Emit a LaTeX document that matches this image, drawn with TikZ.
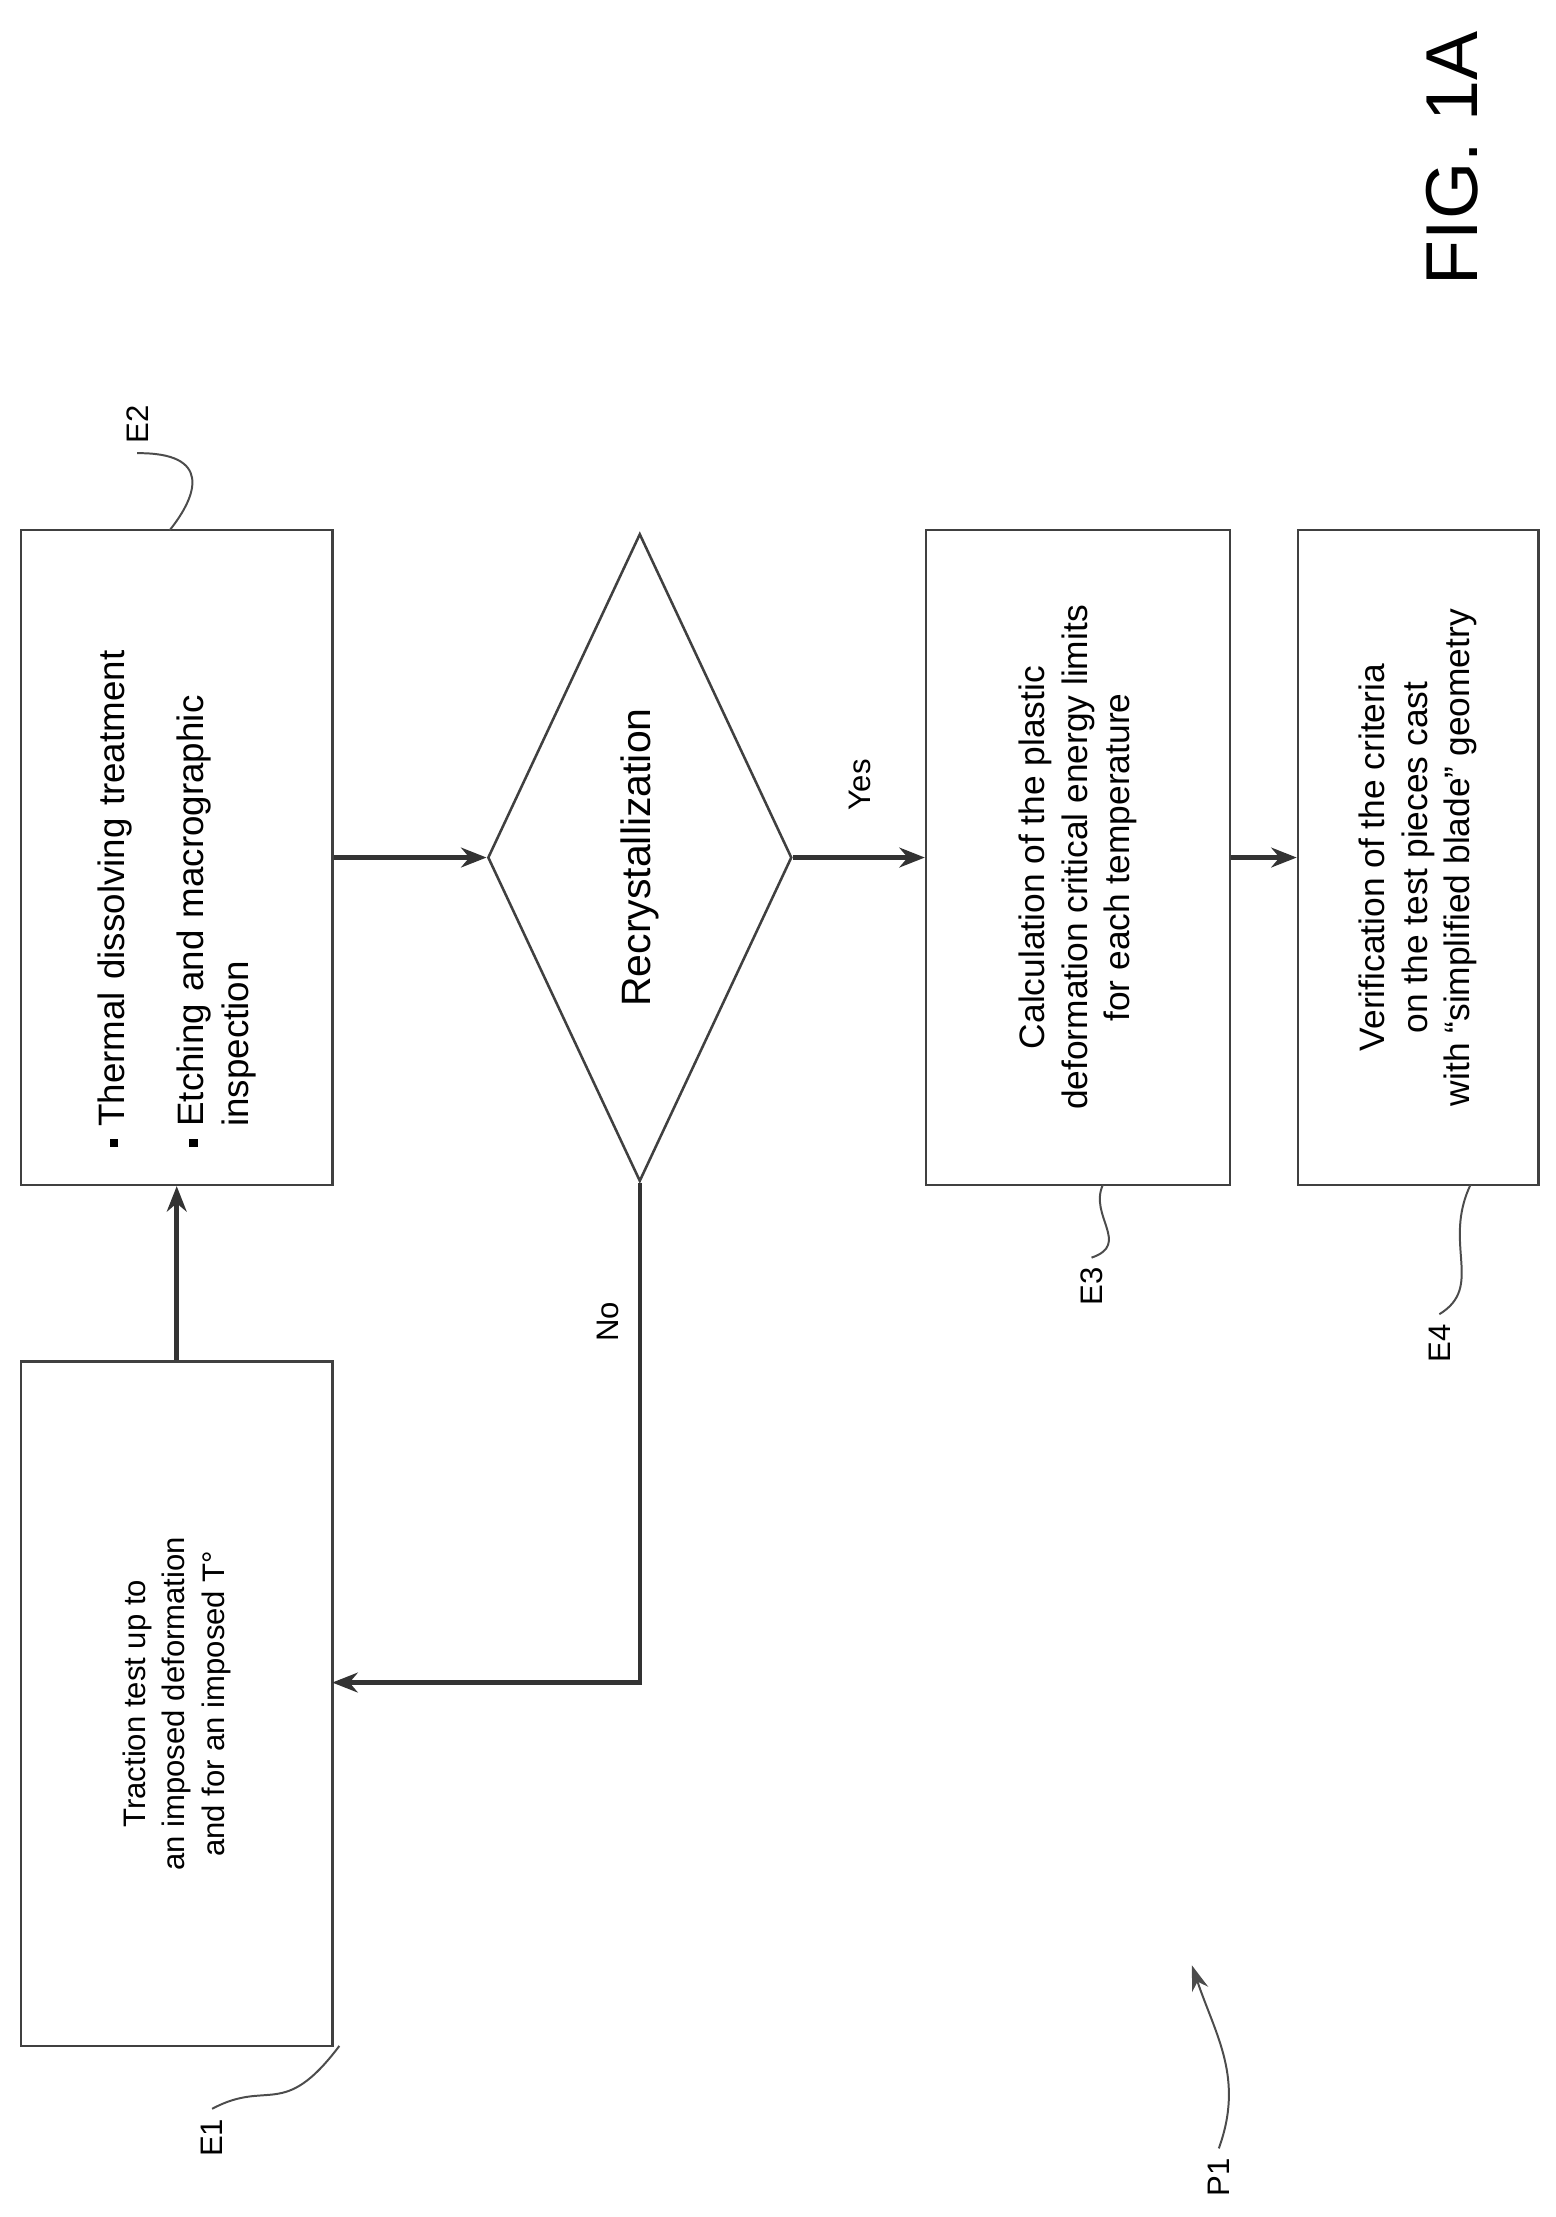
\documentclass[tikz,border=0pt]{standalone}
\usepackage{fontspec}
\setmainfont{Liberation Sans}
\usetikzlibrary{shapes.geometric,arrows.meta}
\begin{document}
\begin{tikzpicture}[x=0.5pt,y=0.5pt,
  box/.style={draw=black!75,line width=0.9pt,rotate=90,minimum height=110pt,inner sep=4pt,align=center,font=\fontsize{11}{14}\selectfont},
  arr/.style={-{Stealth[length=9pt,width=7pt]},line width=1.6pt,draw=black!80},
  lab/.style={rotate=90,font=\fontsize{11}{13}\selectfont},
  sq/.style={line width=0.7pt,draw=black!70}]
\useasboundingbox (0,0) rectangle (1100,-1568);
\node[box,minimum width=242pt] (e1) at (125,-1205) {Traction test up to\\an imposed deformation\\and for an imposed T°};
\node[box,minimum width=231.5pt,align=left,text width=205pt,font=\fontsize{13}{16}\selectfont] (e2) at (125,-606.5) {\raisebox{2pt}{\rule{3pt}{3pt}} Thermal dissolving treatment\\[12pt]\raisebox{2pt}{\rule{3pt}{3pt}} Etching and macrographic\\\phantom{\rule{3pt}{3pt} }inspection};
\node[draw=black!75,line width=0.9pt,diamond,rotate=90,minimum width=229pt,minimum height=107.5pt,inner sep=0pt,aspect=2.13,font=\fontsize{14.5}{17}\selectfont] (d) at (452.5,-606.5) {Recrystallization};
\node[box,minimum width=231.5pt,minimum height=107.5pt,font=\fontsize{12.5}{15}\selectfont] (e3) at (762.5,-606.5) {Calculation of the plastic\\deformation critical energy limits\\for each temperature};
\node[box,minimum width=231.5pt,minimum height=85pt,font=\fontsize{12.5}{15}\selectfont] (e4) at (1003,-606.5) {Verification of the criteria\\on the test pieces cast\\with ``simplified blade'' geometry};
\coordinate (noend) at (235,-1190);
\draw[arr] (e1.east) -- (e2.west);
\draw[arr] (e2.south) -- (d.north);
\draw[arr] (d.south) -- (e3.north);
\node[lab] (yes) at (608,-555) {Yes};
\draw[arr] (e3.south) -- (e4.north);
\draw[arr] (d.west) |- (noend);
\node[lab] (no) at (430,-935) {No};
% labels
\node[lab] (l1) at (150,-1512) {E1};
\coordinate (c1) at (240,-1447);
\draw[sq] (l1.east) .. controls (190,-1470) and (200,-1500) .. (c1);
\node[lab] (l2) at (97,-300) {E2};
\coordinate (c2) at (120,-375);
\draw[sq] (l2.west) .. controls (150,-320) and (140,-350) .. (c2);
\node[lab] (l3) at (772,-910) {E3};
\coordinate (c3) at (780,-838);
\draw[sq] (l3.east) .. controls (800,-880) and (770,-860) .. (c3);
\node[lab] (l4) at (1018,-950) {E4};
\coordinate (c4) at (1040,-838);
\draw[sq] (l4.east) .. controls (1050,-910) and (1020,-880) .. (c4);
\node[lab] (p1) at (862,-1540) {P1};
\coordinate (c5) at (843,-1390);
\draw[sq,-{Stealth[length=9pt,width=6pt]}] (p1.east) .. controls (880,-1470) and (860,-1440) .. (c5);
\node[rotate=90,font=\fontsize{26}{30}\selectfont] (fig) at (1027,-112) {FIG. 1A};
\end{tikzpicture}
\end{document}
